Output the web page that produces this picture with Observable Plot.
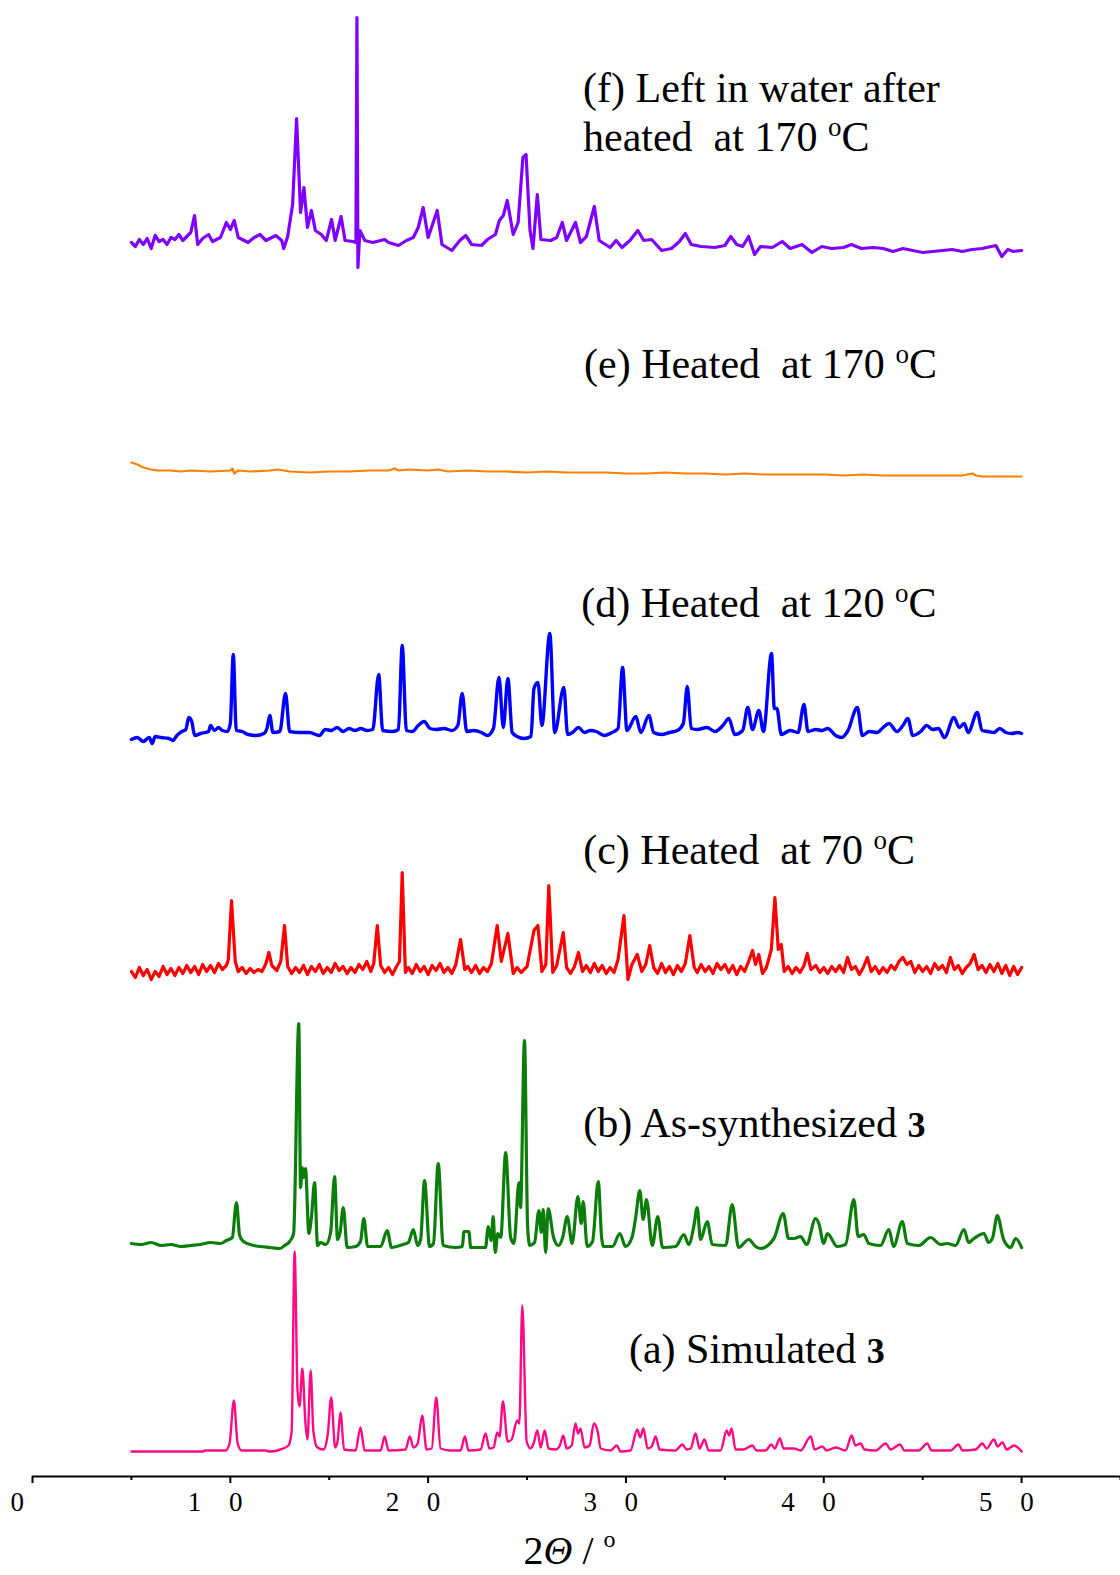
<!DOCTYPE html>
<html><head><meta charset="utf-8">
<script src="https://cdn.jsdelivr.net/npm/d3@7"></script>
<script src="https://cdn.jsdelivr.net/npm/@observablehq/plot@0.6"></script>
<style>
html,body{margin:0;padding:0;background:#fff;}
#chart svg{display:block;}
</style></head><body><div id="chart"></div>
<script>
// ---------------- DATA (2θ in degrees, intensity above each trace baseline, a.u.) ----------------
const seriesKeys = ["a","b","c","d","e","f"];

const simulatedA = [[5.0,0],[8.65,0],[8.7,1],[9.76,1],[9.96,8],[10.18,51],[10.37,8],[10.57,1],[11.78,1],[12.0,0],[12.54,2],[12.94,6],[13.1,20],[13.25,200],[13.4,60],[13.5,45],[13.64,83],[13.8,28],[13.9,12],[14.06,81],[14.2,20],[14.4,4],[14.71,2],[14.93,18],[15.1,54],[15.3,4],[15.42,10],[15.57,39],[15.75,2],[16.33,1],[16.58,24],[16.79,1],[17.6,1],[17.8,15],[18.0,1],[18.86,2],[19.07,15],[19.26,4],[19.47,8],[19.7,36],[19.92,2],[20.18,3],[20.41,54],[20.63,3],[21.13,1],[21.64,1],[21.86,15],[22.04,1],[22.65,2],[22.9,18],[23.1,3],[23.31,4],[23.49,19],[23.61,15],[23.78,50],[24.02,10],[24.22,12],[24.5,31],[24.61,28],[24.76,146],[24.98,10],[25.18,3],[25.33,8],[25.52,21],[25.69,4],[25.89,21],[26.09,3],[26.45,2],[26.66,6],[26.83,16],[27.0,3],[27.25,6],[27.45,28],[27.58,18],[27.7,23],[27.91,4],[28.16,6],[28.38,28],[28.57,20],[28.72,3],[29.22,1],[29.53,6],[29.73,0],[30.23,1],[30.57,22],[30.72,14],[30.88,23],[31.1,3],[31.3,5],[31.5,15],[31.7,2],[32.5,1],[32.85,7],[33.07,2],[33.27,3],[33.52,18],[33.72,3],[33.97,12],[34.18,1],[34.78,1],[35.09,21],[35.21,16],[35.34,23],[35.54,2],[35.93,2],[36.39,6],[36.6,1],[37.06,1],[37.35,7],[37.52,3],[37.78,13],[37.97,3],[38.49,3],[38.83,1],[39.34,15],[39.54,2],[39.93,5],[40.14,1],[40.6,4],[41.1,1],[41.41,16],[41.6,6],[41.86,8],[42.06,2],[42.62,1],[43.13,8],[43.38,2],[43.85,7],[44.08,1],[44.79,1],[45.23,8],[45.45,1],[46.41,1],[46.8,7],[47.02,1],[47.68,2],[48.02,8],[48.23,3],[48.6,12],[48.79,5],[49.03,9],[49.25,2],[49.62,6],[50.0,0]];

const synthesizedB = [[5.0,4],[5.5,3],[6.0,5],[6.5,2],[7.0,3],[7.5,1],[8.0,2],[8.5,3],[9.0,5],[9.5,4],[9.8,7],[10.1,10],[10.31,45],[10.47,12],[10.67,6],[11.0,3],[11.5,1],[12.0,0],[12.5,-1],[12.74,2],[13.0,6],[13.2,14],[13.46,224],[13.55,60],[13.64,80],[13.7,70],[13.8,79],[13.97,14],[14.1,30],[14.26,65],[14.41,2],[14.56,5],[14.82,3],[15.07,15],[15.27,71],[15.42,8],[15.55,15],[15.71,40],[15.91,0],[16.33,1],[16.58,6],[16.75,29],[16.94,1],[17.6,1],[17.93,17],[18.15,0],[18.74,3],[19.0,5],[19.25,18],[19.47,2],[19.62,8],[19.82,67],[20.07,1],[20.27,4],[20.51,84],[20.76,2],[21.39,0],[21.73,1],[21.81,16],[22.06,16],[22.15,0],[22.9,0],[23.04,21],[23.18,7],[23.29,31],[23.39,-5],[23.52,14],[23.67,10],[23.92,95],[24.17,10],[24.34,4],[24.59,65],[24.67,40],[24.87,207],[25.03,20],[25.14,2],[25.38,5],[25.6,37],[25.72,15],[25.82,38],[25.94,-5],[26.07,39],[26.34,10],[26.59,2],[26.8,10],[27.03,31],[27.28,4],[27.57,51],[27.74,24],[27.84,46],[28.04,1],[28.31,6],[28.6,66],[28.77,10],[28.85,1],[29.32,1],[29.69,14],[29.98,1],[30.32,11],[30.49,30],[30.7,57],[30.87,28],[31.04,48],[31.33,2],[31.61,31],[31.85,0],[32.51,1],[32.93,13],[33.17,3],[33.43,21],[33.6,40],[33.77,8],[34.11,26],[34.36,3],[35.04,2],[35.37,43],[35.69,0],[36.21,8],[36.55,1],[36.8,-1],[37.48,9],[37.95,34],[38.22,9],[38.49,9],[38.83,11],[39.13,3],[39.59,29],[39.75,24],[40.0,4],[40.18,14],[40.68,1],[41.1,3],[41.52,48],[41.74,11],[42.02,13],[42.28,4],[42.87,2],[43.29,18],[43.53,1],[43.97,26],[44.22,4],[44.8,2],[45.4,10],[45.91,3],[46.24,4],[46.66,2],[47.09,18],[47.32,5],[47.59,9],[48.1,14],[48.33,5],[48.54,10],[48.77,32],[49.09,8],[49.45,0],[49.7,9],[50.0,0]];

const heated70C = [[5.0,-2],[5.2,-8],[5.4,2],[5.6,-6],[5.8,0],[6.0,-10],[6.2,-2],[6.4,-7],[6.6,3],[6.8,-5],[7.0,1],[7.2,-6],[7.4,2],[7.6,-4],[7.8,4],[8.0,-3],[8.2,3],[8.4,-5],[8.6,5],[8.8,-2],[9.0,4],[9.2,-3],[9.4,6],[9.6,0],[9.8,4],[9.9,10],[10.06,69],[10.25,8],[10.4,-2],[10.6,2],[10.8,-4],[11.0,1],[11.2,-3],[11.4,0],[11.6,-2],[11.8,6],[11.95,17],[12.1,4],[12.35,-1],[12.55,8],[12.74,44],[12.9,3],[13.1,-4],[13.3,2],[13.5,-3],[13.7,4],[13.9,-5],[14.1,3],[14.3,-2],[14.5,5],[14.7,-4],[14.9,2],[15.1,-3],[15.3,6],[15.5,-1],[15.7,3],[15.9,-4],[16.1,2],[16.3,-3],[16.5,5],[16.7,0],[16.9,8],[17.1,-2],[17.25,6],[17.43,44],[17.6,4],[17.8,-3],[18.0,2],[18.2,-5],[18.4,3],[18.55,8],[18.69,97],[18.85,-3],[19.0,2],[19.2,-4],[19.4,5],[19.6,-2],[19.8,3],[20.0,-5],[20.2,4],[20.4,-1],[20.6,6],[20.8,-3],[21.0,2],[21.2,-4],[21.4,5],[21.64,30],[21.85,0],[22.0,3],[22.2,-3],[22.4,4],[22.6,-4],[22.8,2],[23.0,-2],[23.2,6],[23.49,44],[23.7,8],[24.03,36],[24.3,-4],[24.5,2],[24.7,-3],[25.0,3],[25.35,39],[25.55,44],[25.75,-2],[25.95,5],[26.1,84],[26.3,-3],[26.5,4],[26.83,37],[27.0,2],[27.2,-4],[27.4,3],[27.6,17],[27.8,-2],[28.0,4],[28.2,-3],[28.4,6],[28.6,-2],[28.8,4],[29.0,-4],[29.2,2],[29.4,-3],[29.6,10],[29.9,54],[30.1,-10],[30.3,5],[30.57,15],[30.8,-2],[31.0,5],[31.2,24],[31.4,2],[31.6,-4],[31.8,6],[32.0,-3],[32.2,3],[32.4,-5],[32.6,4],[32.8,-2],[33.0,6],[33.23,34],[33.45,2],[33.6,-3],[33.8,5],[34.0,-2],[34.2,3],[34.4,-4],[34.6,6],[34.8,0],[35.0,5],[35.2,-3],[35.4,4],[35.6,-5],[35.8,3],[36.0,-2],[36.2,8],[36.4,19],[36.55,5],[36.72,15],[36.9,-4],[37.1,2],[37.35,20],[37.53,72],[37.7,20],[37.85,25],[38.0,-2],[38.2,3],[38.4,-4],[38.6,2],[38.8,-3],[39.0,4],[39.17,16],[39.35,0],[39.6,4],[39.8,-3],[40.0,2],[40.2,-4],[40.4,3],[40.6,-2],[40.8,4],[41.0,-3],[41.2,12],[41.4,0],[41.6,3],[41.8,-5],[42.0,2],[42.2,12],[42.4,-2],[42.6,3],[42.8,-4],[43.0,2],[43.2,-3],[43.4,4],[43.6,0],[43.8,8],[44.0,12],[44.2,5],[44.4,8],[44.6,-3],[44.8,4],[45.0,-2],[45.2,3],[45.4,-4],[45.6,6],[45.8,0],[46.0,4],[46.2,-3],[46.4,12],[46.6,0],[46.8,4],[47.0,-4],[47.2,2],[47.4,6],[47.6,15],[47.8,0],[48.0,4],[48.2,-3],[48.4,5],[48.6,-2],[48.8,6],[49.0,-4],[49.2,4],[49.4,-6],[49.6,3],[49.8,-5],[50.0,2]];

const heated120D = [[5.0,-6],[5.3,-4],[5.6,-8],[5.9,-4],[6.05,-10],[6.2,-3],[6.5,-4],[6.9,-5],[7.1,-7],[7.3,-2],[7.55,2],[7.75,4],[7.9,16],[8.05,12],[8.2,-2],[8.5,0],[8.9,2],[9.0,8],[9.2,3],[9.4,6],[9.6,3],[9.85,2],[10.0,10],[10.15,79],[10.3,3],[10.6,2],[10.9,-1],[11.3,-2],[11.7,0],[11.85,5],[12.0,18],[12.15,1],[12.5,2],[12.79,40],[13.0,2],[13.5,1],[14.0,1],[14.5,-2],[14.8,4],[15.1,3],[15.4,6],[15.7,2],[16.0,5],[16.3,3],[16.6,5],[16.9,3],[17.2,4],[17.5,59],[17.7,3],[18.2,2],[18.5,4],[18.69,88],[18.9,3],[19.2,2],[19.5,8],[19.8,12],[20.1,5],[20.4,4],[20.8,5],[21.2,3],[21.5,8],[21.72,40],[21.95,2],[22.3,3],[22.7,1],[23.0,-2],[23.3,5],[23.58,56],[23.8,6],[24.03,55],[24.25,1],[24.5,-3],[24.85,-5],[25.2,-3],[25.35,45],[25.55,51],[25.75,8],[26.15,100],[26.4,1],[26.86,46],[27.05,-1],[27.3,1],[27.6,6],[27.9,1],[28.2,3],[28.5,2],[28.9,-2],[29.3,1],[29.6,5],[29.83,66],[30.05,3],[30.5,17],[30.75,1],[31.16,18],[31.4,1],[31.8,-1],[32.2,1],[32.6,3],[32.9,10],[33.1,47],[33.3,5],[33.6,4],[34.1,6],[34.5,2],[34.9,8],[35.2,15],[35.5,-1],[35.9,3],[36.16,26],[36.4,4],[36.72,23],[36.95,2],[37.36,80],[37.5,25],[37.63,25],[37.85,-1],[38.3,3],[38.7,1],[39.0,29],[39.2,2],[39.6,4],[39.9,3],[40.2,5],[40.6,-2],[40.9,-4],[41.2,2],[41.7,26],[41.95,-2],[42.3,2],[42.7,1],[43.0,6],[43.3,10],[43.7,2],[44.0,8],[44.25,15],[44.5,-2],[44.9,2],[45.2,8],[45.5,4],[45.8,5],[46.1,-4],[46.58,16],[46.85,6],[47.1,10],[47.3,1],[47.76,21],[48.0,3],[48.3,2],[48.6,1],[48.9,5],[49.2,1],[49.5,0],[49.8,1],[50.0,0]];

const heated170E = [[5.0,9],[5.3,7],[5.6,4],[6.0,2],[6.3,1],[7.0,1],[7.5,0],[8.0,1],[9.0,0],[10.0,1],[10.1,3],[10.2,-2],[10.4,1],[11.0,0],[12.0,1],[12.4,2],[13.0,0],[14.0,-1],[15.0,0],[16.0,0],[17.0,1],[18.0,1],[18.3,3],[18.5,1],[19.0,2],[20.0,1],[20.5,2],[21.0,0],[22.0,1],[23.0,0],[24.0,0],[25.0,-1],[26.0,0],[27.0,-1],[28.0,-1],[29.0,-1],[30.0,-2],[31.0,-2],[32.0,-1],[33.0,-2],[34.0,-2],[35.0,-3],[36.0,-2],[37.0,-3],[38.0,-3],[39.0,-3],[40.0,-3],[41.0,-4],[42.0,-3],[43.0,-4],[44.0,-4],[45.0,-4],[46.0,-4],[47.0,-4],[47.5,-2],[47.7,-4],[48.0,-5],[49.0,-5],[50.0,-5]];

const waterF = [[5.0,0],[5.2,-4],[5.4,3],[5.6,-2],[5.8,4],[6.0,-6],[6.2,7],[6.4,1],[6.6,3],[6.8,-2],[7.0,5],[7.2,3],[7.4,8],[7.6,2],[7.8,6],[8.0,10],[8.19,27],[8.35,-2],[8.6,4],[8.9,8],[9.1,1],[9.3,3],[9.5,5],[9.8,20],[10.0,13],[10.2,22],[10.4,5],[10.6,3],[10.9,0],[11.2,5],[11.5,8],[11.8,2],[12.0,4],[12.3,7],[12.6,2],[12.7,-6],[12.9,6],[13.15,38],[13.35,124],[13.55,30],[13.72,55],[13.9,15],[14.1,32],[14.3,12],[14.6,8],[14.85,2],[15.12,23],[15.3,2],[15.6,26],[15.8,2],[16.2,1],[16.35,0],[16.4,225],[16.45,-25],[16.55,12],[16.8,2],[17.2,0],[17.8,3],[18.0,0],[18.5,-3],[18.9,2],[19.25,5],[19.5,15],[19.75,35],[20.0,5],[20.46,32],[20.7,-2],[21.2,-8],[21.6,2],[21.9,7],[22.2,-2],[22.7,-3],[23.0,3],[23.4,8],[23.6,22],[23.8,27],[24.0,42],[24.3,8],[24.55,20],[24.79,85],[24.95,88],[25.15,12],[25.3,-6],[25.52,48],[25.7,3],[26.2,2],[26.5,5],[26.78,20],[27.0,2],[27.45,20],[27.7,0],[28.0,6],[28.4,36],[28.65,2],[29.2,-5],[29.5,2],[29.8,-5],[30.2,2],[30.6,12],[30.9,2],[31.3,3],[31.8,-8],[32.3,-6],[32.7,1],[33.0,9],[33.3,-2],[33.8,-4],[34.5,-5],[35.0,-3],[35.3,6],[35.6,-2],[35.9,-4],[36.2,6],[36.5,-12],[36.8,-4],[37.4,-5],[37.9,1],[38.3,-6],[38.9,-2],[39.4,-10],[39.9,-4],[40.4,-6],[41.0,-5],[41.4,-2],[41.9,-6],[42.5,-5],[43.0,-6],[43.5,-9],[44.0,-6],[44.5,-8],[45.0,-10],[45.5,-9],[46.0,-8],[46.5,-7],[47.0,-9],[47.5,-7],[48.0,-6],[48.7,-3],[49.0,-14],[49.3,-7],[49.6,-9],[50.0,-8]];

const xMajorTicks = [0, 10, 20, 30, 40, 50];
const xMinorTicks = [5, 15, 25, 35, 45, 55];
const axisTitle = "2Θ / °";
const traceLabels = ["(f) Left in water after", "heated\u00a0 at 170 °C", "(e) Heated\u00a0 at 170 °C", "(d) Heated\u00a0 at 120 °C", "(c) Heated\u00a0 at 70 °C", "(b) As-synthesized 3", "(a) Simulated 3"];

// ---------------- LAYOUT / STYLE ----------------
const patterns = {a: simulatedA, b: synthesizedB, c: heated70C, d: heated120D, e: heated170E, f: waterF};
const offsets = {a: 25, b: 229, c: 507, d: 743, e: 1005, f: 1234};
const colors = {a: "#ff0a84", b: "#0a7d0a", c: "#ff0000", d: "#0000ff", e: "#ff8000", f: "#8000ff"};
const widths = {a: 2.4, b: 3.2, c: 3.2, d: 3.4, e: 2.2, f: 3.2};
const curves = {a: "monotone-x", b: "monotone-x", c: "linear", d: "monotone-x", e: "linear", f: "linear"};
const labelAnchors = [[27.83, 1374.5], [27.83, 1326], [27.88, 1098.5], [27.74, 860], [27.84, 613], [27.84, 340], [30.15, 114]];

const W = 1120, H = 1575;
const FONT = "Liberation Serif, Times New Roman, serif";

const lineMarks = seriesKeys.map(k => Plot.line(patterns[k], {
  x: d => d[0],
  y: d => offsets[k] + d[1],
  stroke: colors[k],
  strokeWidth: widths[k],
  curve: curves[k],
  strokeLinejoin: "round",
  strokeLinecap: "round"
}));

const labelRows = traceLabels.map((t, i) => ({t, x: labelAnchors[i][0], y: labelAnchors[i][1]}));
const fmtTick = d => String(d).split("").join(" ");

const svg = Plot.plot({
  width: W, height: H,
  marginLeft: 32, marginRight: 0, marginTop: 0, marginBottom: 99,
  style: {fontFamily: FONT, background: "#fff", color: "#000"},
  x: {domain: [0, 55], range: [32, 1120]},
  y: {domain: [0, 1476], axis: null},
  marks: [
    ...lineMarks,
    Plot.ruleY([0], {stroke: "#000", strokeWidth: 2}),
    Plot.axisX({ticks: xMajorTicks, tickSize: 7, tickFormat: () => "", strokeWidth: 2, label: null}),
    Plot.axisX({ticks: xMinorTicks, tickSize: 4, tickFormat: () => "", strokeWidth: 2, label: null}),
    Plot.text(xMajorTicks, {x: d => d, text: fmtTick, frameAnchor: "bottom", lineAnchor: "top", dy: 15, dx: -10, fontSize: 27, fill: "#000", ariaDescription: "xticklabels"}),
    Plot.text([axisTitle], {text: d => d, frameAnchor: "bottom", lineAnchor: "middle", dy: 75, dx: -7, fontSize: 40, fill: "#000", ariaDescription: "xtitle"}),
    Plot.text(labelRows, {x: "x", y: "y", text: "t", textAnchor: "start", lineAnchor: "bottom", fontSize: 42, fill: "#000", ariaDescription: "tracelabels"})
  ]
});

document.getElementById("chart").appendChild(svg);

// rich-text touches (superscript degree "o", bold compound number, italic theta, spaced tick digits)
const NS = "http://www.w3.org/2000/svg";
function tspan(parent, txt, attrs) {
  const s = document.createElementNS(NS, "tspan");
  s.textContent = txt;
  for (const k in attrs) s.setAttribute(k, attrs[k]);
  parent.appendChild(s);
  return s;
}
svg.querySelectorAll('g[aria-description="xticklabels"] text').forEach(t => { t.style.letterSpacing = "10.4px"; });
svg.querySelectorAll('g[aria-description="tracelabels"] text').forEach(t => {
  const s = t.textContent;
  t.textContent = "";
  if (s.includes("°")) {
    const [pre, post] = s.split("°");
    tspan(t, pre, {});
    tspan(t, "o", {"font-size": 27, dy: -15});
    tspan(t, post, {dy: 15});
  } else if (/ 3$/.test(s)) {
    tspan(t, s.slice(0, -1), {});
    tspan(t, "3", {"font-weight": "bold", "font-size": 36});
  } else {
    tspan(t, s, {});
  }
});
svg.querySelectorAll('g[aria-description="xtitle"] text').forEach(t => {
  const s = t.textContent; // "2Θ / °"
  t.textContent = "";
  tspan(t, s[0], {});
  tspan(t, s[1], {"font-style": "italic"});
  tspan(t, " / ", {});
  tspan(t, "o", {"font-size": 24, dy: -17});
});
</script>
</body></html>
